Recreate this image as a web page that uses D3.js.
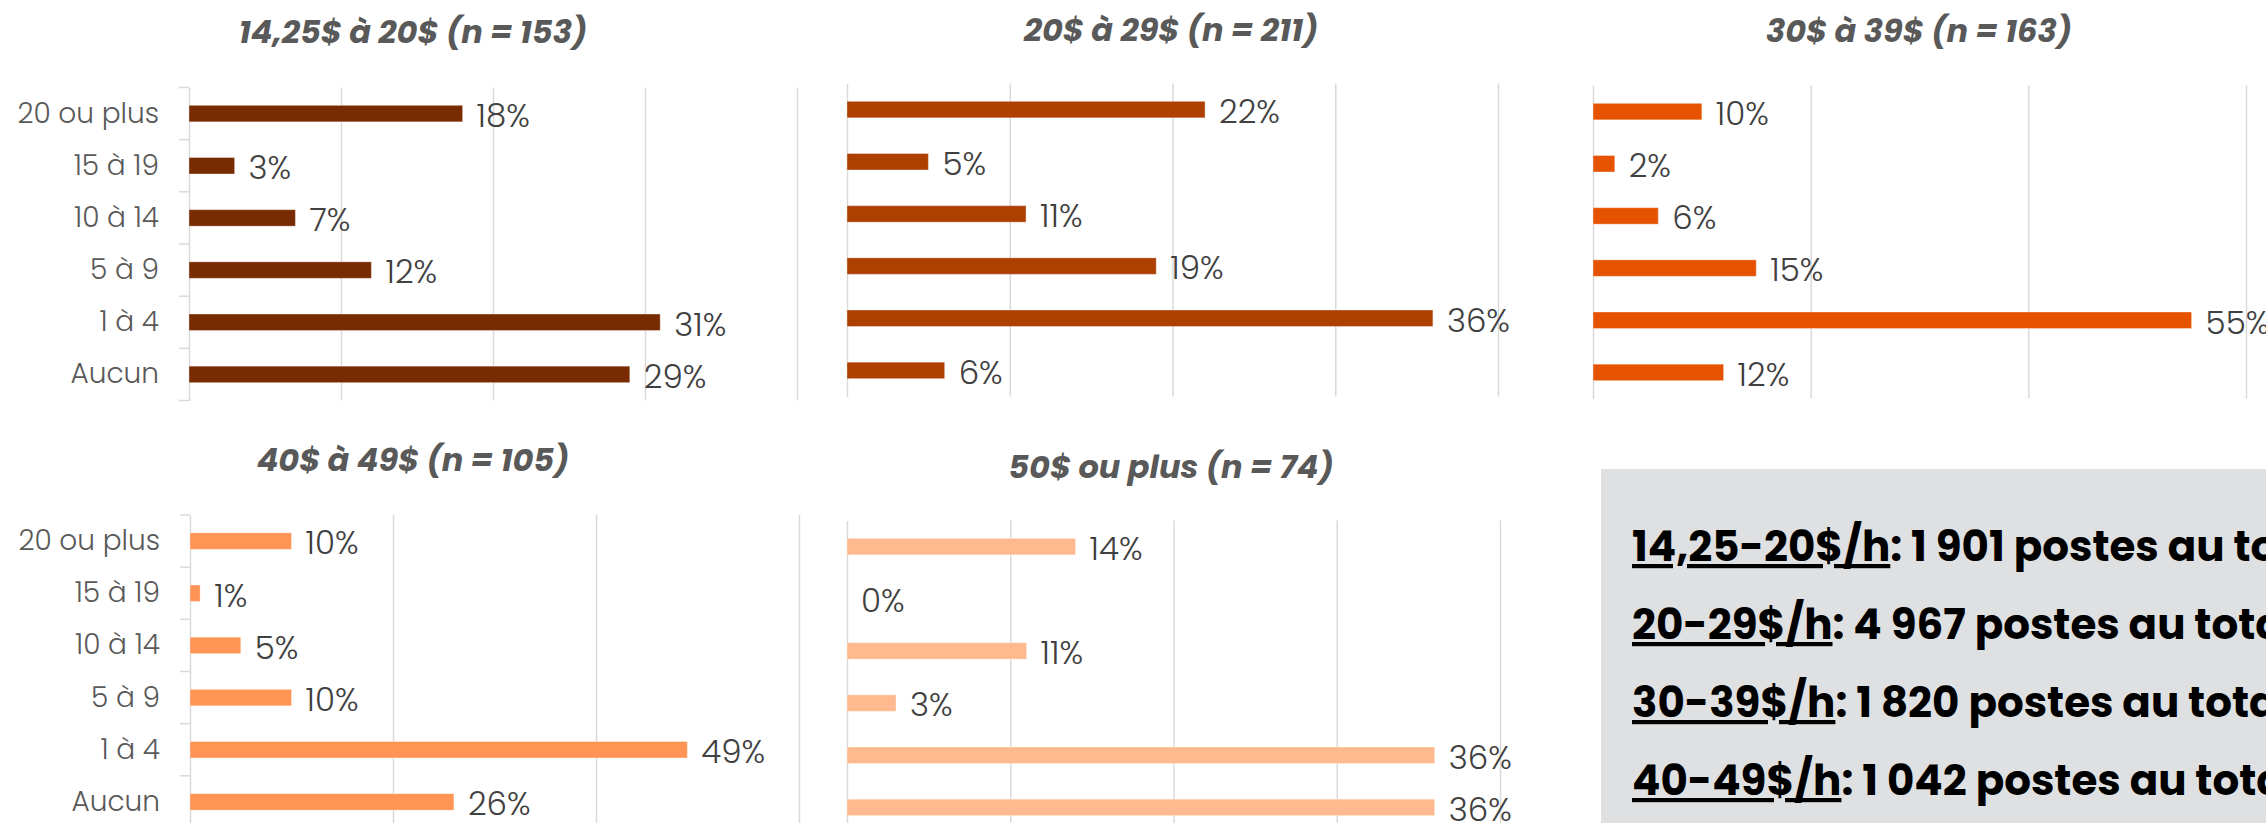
<!DOCTYPE html>
<html>
<head>
<meta charset="utf-8">
<script src="https://cdn.jsdelivr.net/npm/d3@7/dist/d3.min.js"></script>
<style>
  html, body { margin: 0; padding: 0; background: #fff; overflow: hidden; }
  svg { display: block; }
</style>
</head>
<body>
<svg id="chart" width="2266" height="823"></svg>
<script>
// ---------- DATA ----------
const categories = ["20 ou plus", "15 à 19", "10 à 14", "5 à 9", "1 à 4", "Aucun"];
const panelTitles = [
  "14,25$ à 20$ (n = 153)",
  "20$ à 29$ (n = 211)",
  "30$ à 39$ (n = 163)",
  "40$ à 49$ (n = 105)",
  "50$ ou plus (n = 74)"
];
const values1420 = [18, 3, 7, 12, 31, 29];
const values2029 = [22, 5, 11, 19, 36, 6];
const values3039 = [10, 2, 6, 15, 55, 12];
const values4049 = [10, 1, 5, 10, 49, 26];
const values50plus = [14, 0, 11, 3, 36, 36];
const gridTicks40 = [10, 20, 30, 40];
const gridTicks60 = [20, 40, 60];
const boxRanges = ["14,25-20$/h", "20-29$/h", "30-39$/h", "40-49$/h"];
const boxTotals = ["1 901", "4 967", "1 820", "1 042"];

// ---------- LAYOUT / STYLE ----------
const FONT = "'Poppins', 'Open Sans', 'Noto Sans', sans-serif";
const panels = [
  { values: values1420, title: panelTitles[0], max: 40, ticks: gridTicks40, color: "#782A00",
    x0: 189, x1: 797, y0: 87.5, y1: 400.5, tx: 413, ty: 32, showCats: true },
  { values: values2029, title: panelTitles[1], max: 40, ticks: gridTicks40, color: "#AD3F00",
    x0: 847, x1: 1498, y0: 83.5, y1: 396.5, tx: 1171, ty: 30, showCats: false },
  { values: values3039, title: panelTitles[2], max: 60, ticks: gridTicks60, color: "#E55300",
    x0: 1593, x1: 2246, y0: 85.5, y1: 398.5, tx: 1919, ty: 31, showCats: false },
  { values: values4049, title: panelTitles[3], max: 60, ticks: gridTicks60, color: "#FF9455",
    x0: 190, x1: 799, y0: 515, y1: 828, tx: 413, ty: 460, showCats: true },
  { values: values50plus, title: panelTitles[4], max: 40, ticks: gridTicks40, color: "#FFB98F",
    x0: 847, x1: 1500, y0: 520.5, y1: 833.5, tx: 1171, ty: 467, showCats: false }
];

const svg = d3.select("#chart");

panels.forEach(p => {
  const g = svg.append("g");
  const x = d3.scaleLinear().domain([0, p.max]).range([p.x0, p.x1]);
  const y = d3.scaleBand().domain(categories).range([p.y0, p.y1]).paddingInner(0.684).paddingOuter(0.342);

  // gridlines
  const grid = g.append("g")
    .attr("transform", `translate(0,${p.y1})`)
    .call(d3.axisBottom(x).tickValues(p.ticks).tickSize(-(p.y1 - p.y0)).tickFormat(""));
  grid.select(".domain").remove();
  grid.selectAll(".tick line").attr("stroke", "#D9D9D9").attr("stroke-width", 1.5);

  // category axis
  const yAxis = g.append("g")
    .attr("transform", `translate(${p.x0},0)`)
    .call(d3.axisLeft(y).tickSize(0).tickPadding(30));
  yAxis.select(".domain").attr("stroke", "#D9D9D9").attr("stroke-width", 1.5);
  if (p.showCats) {
    yAxis.selectAll(".tick text")
      .style("font-family", FONT).style("font-size", "28px").style("font-weight", 300)
      .attr("fill", "#595959");
    const step = y.step();
    const bounds = d3.range(categories.length + 1).map(i => p.y0 + i * step);
    g.append("g").selectAll("line").data(bounds).join("line")
      .attr("x1", p.x0 - 10).attr("x2", p.x0)
      .attr("y1", d => d).attr("y2", d => d)
      .attr("stroke", "#D9D9D9").attr("stroke-width", 1.5);
  } else {
    yAxis.selectAll(".tick text").remove();
  }

  // bars
  g.append("g").selectAll("rect").data(p.values).join("rect")
    .attr("x", x(0))
    .attr("y", (d, i) => y(categories[i]))
    .attr("width", d => x(d) - x(0))
    .attr("height", y.bandwidth())
    .attr("fill", p.color)
    .attr("stroke", d => d > 0 ? "rgba(255,255,255,0.35)" : "none")
    .attr("stroke-width", 1);

  // value labels
  g.append("g").selectAll("text").data(p.values).join("text")
    .attr("x", d => x(d) + 14)
    .attr("y", (d, i) => y(categories[i]) + y.bandwidth() / 2 + 2)
    .attr("dy", "0.35em")
    .style("font-family", FONT).style("font-size", "32.5px").style("font-weight", 300)
    .attr("fill", "#404040")
    .text(d => d + "%");

  // title
  g.append("text")
    .attr("x", p.tx).attr("y", p.ty).attr("dy", "0.35em")
    .attr("text-anchor", "middle")
    .style("font-family", FONT).style("font-size", "32px").style("font-weight", 700)
    .style("font-style", "italic")
    .attr("fill", "#595959")
    .text(p.title);
});

// ---------- info box ----------
svg.append("rect")
  .attr("x", 1601).attr("y", 469).attr("width", 700).attr("height", 400)
  .attr("fill", "#DFE0E2");

const lineY = d3.scalePoint().domain(boxRanges).range([561, 795]);
const boxText = svg.append("g").selectAll("text").data(boxRanges).join("text")
  .attr("x", 1632).attr("y", d => lineY(d))
  .style("font-family", FONT).style("font-size", "42px").style("font-weight", 700)
  .attr("fill", "#000");
boxText.append("tspan").style("text-decoration", "underline").text(d => d);
boxText.append("tspan").text((d, i) => ": " + boxTotals[i] + " postes au total");
</script>
</body>
</html>
